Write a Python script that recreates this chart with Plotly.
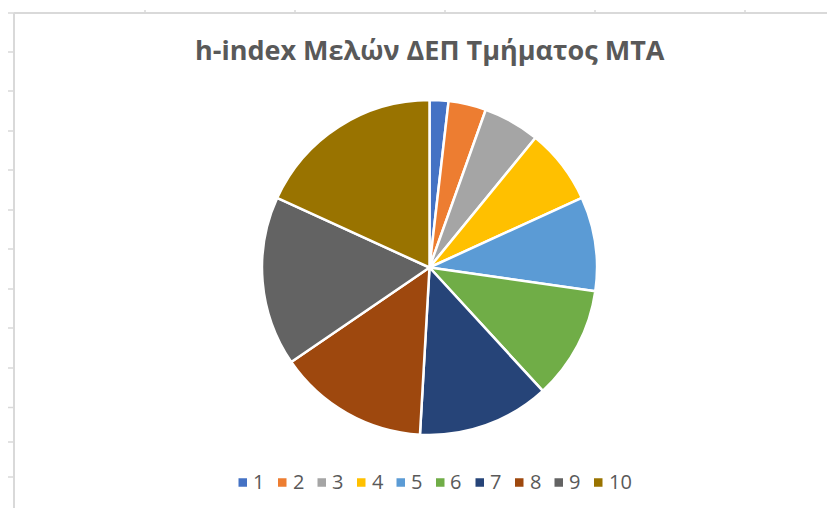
import plotly.graph_objects as go

# page is rendered with the browser's default 8px body margin,
# so the figure is sized to fill the remaining window area
OFF = 8
W, H = 835 - OFF, 508 - OFF

# ---- data ----
labels = ["1", "2", "3", "4", "5", "6", "7", "8", "9", "10"]
values = [1, 2, 3, 4, 5, 6, 7, 8, 9, 10]
colors = ["#4472C4", "#ED7D31", "#A5A5A5", "#FFC000", "#5B9BD5",
          "#70AD47", "#264478", "#9E480E", "#636363", "#997300"]
title_text = "h-index Μελών ΔΕΠ Τμήματος ΜΤΑ"

# ---- layout helpers (window pixel -> paper) ----
def px(x):
    return (x - OFF) / W

def py(y):
    return 1 - (y - OFF) / H

cx, cy, r = 429.5, 267.5, 167.5

fig = go.Figure()
fig.add_trace(go.Pie(
    labels=labels, values=values, sort=False, direction="clockwise", rotation=0,
    marker=dict(colors=colors, line=dict(color="#FFFFFF", width=2.5)),
    textinfo="none", hoverinfo="label+value", showlegend=False,
    domain=dict(x=[px(cx - r), px(cx + r)], y=[py(cy + r), py(cy - r)]),
))

shapes = []
grid = "#D9D9D9"
# chart area border (top and left)
shapes.append(dict(type="line", xref="paper", yref="paper",
                   x0=px(14), x1=px(840), y0=py(13), y1=py(13),
                   line=dict(color=grid, width=2)))
shapes.append(dict(type="line", xref="paper", yref="paper",
                   x0=px(14), x1=px(14), y0=py(13), y1=py(515),
                   line=dict(color=grid, width=2)))
# sheet grid stubs
for yy in [13, 52, 91, 131, 170, 210, 249, 289, 328, 368, 407.5, 442, 477]:
    shapes.append(dict(type="line", xref="paper", yref="paper",
                       x0=px(8), x1=px(14), y0=py(yy), y1=py(yy),
                       line=dict(color=grid, width=1.5)))
for xx in [145, 295, 445, 595, 745]:
    shapes.append(dict(type="line", xref="paper", yref="paper",
                       x0=px(xx), x1=px(xx), y0=py(10), y1=py(13),
                       line=dict(color=grid, width=1.5)))

# legend (manual, Excel style)
annotations = []
leg_x0, pitch, leg_y, sq = 238.5, 39.5, 482.5, 8.5
for i, (lab, col) in enumerate(zip(labels, colors)):
    mx = leg_x0 + pitch * i
    shapes.append(dict(type="rect", xref="paper", yref="paper",
                       x0=px(mx), x1=px(mx + sq), y0=py(leg_y + sq / 2), y1=py(leg_y - sq / 2),
                       fillcolor=col, line=dict(width=0)))
    annotations.append(dict(xref="paper", yref="paper", x=px(mx + sq + 4), y=py(leg_y - 1),
                            xanchor="left", yanchor="middle", text=lab, showarrow=False,
                            font=dict(family="Open Sans", size=20, color="#595959")))

annotations.append(dict(xref="paper", yref="paper", x=px(429.5), y=py(50),
                        xanchor="center", yanchor="middle", text="<b>" + title_text + "</b>",
                        showarrow=False,
                        font=dict(family="Open Sans", size=27, color="#595959")))

fig.update_layout(
    width=W, height=H, margin=dict(l=0, r=0, t=0, b=0),
    paper_bgcolor="#FFFFFF", plot_bgcolor="#FFFFFF",
    shapes=shapes, annotations=annotations, showlegend=False,
)
fig.write_html("out.html")
